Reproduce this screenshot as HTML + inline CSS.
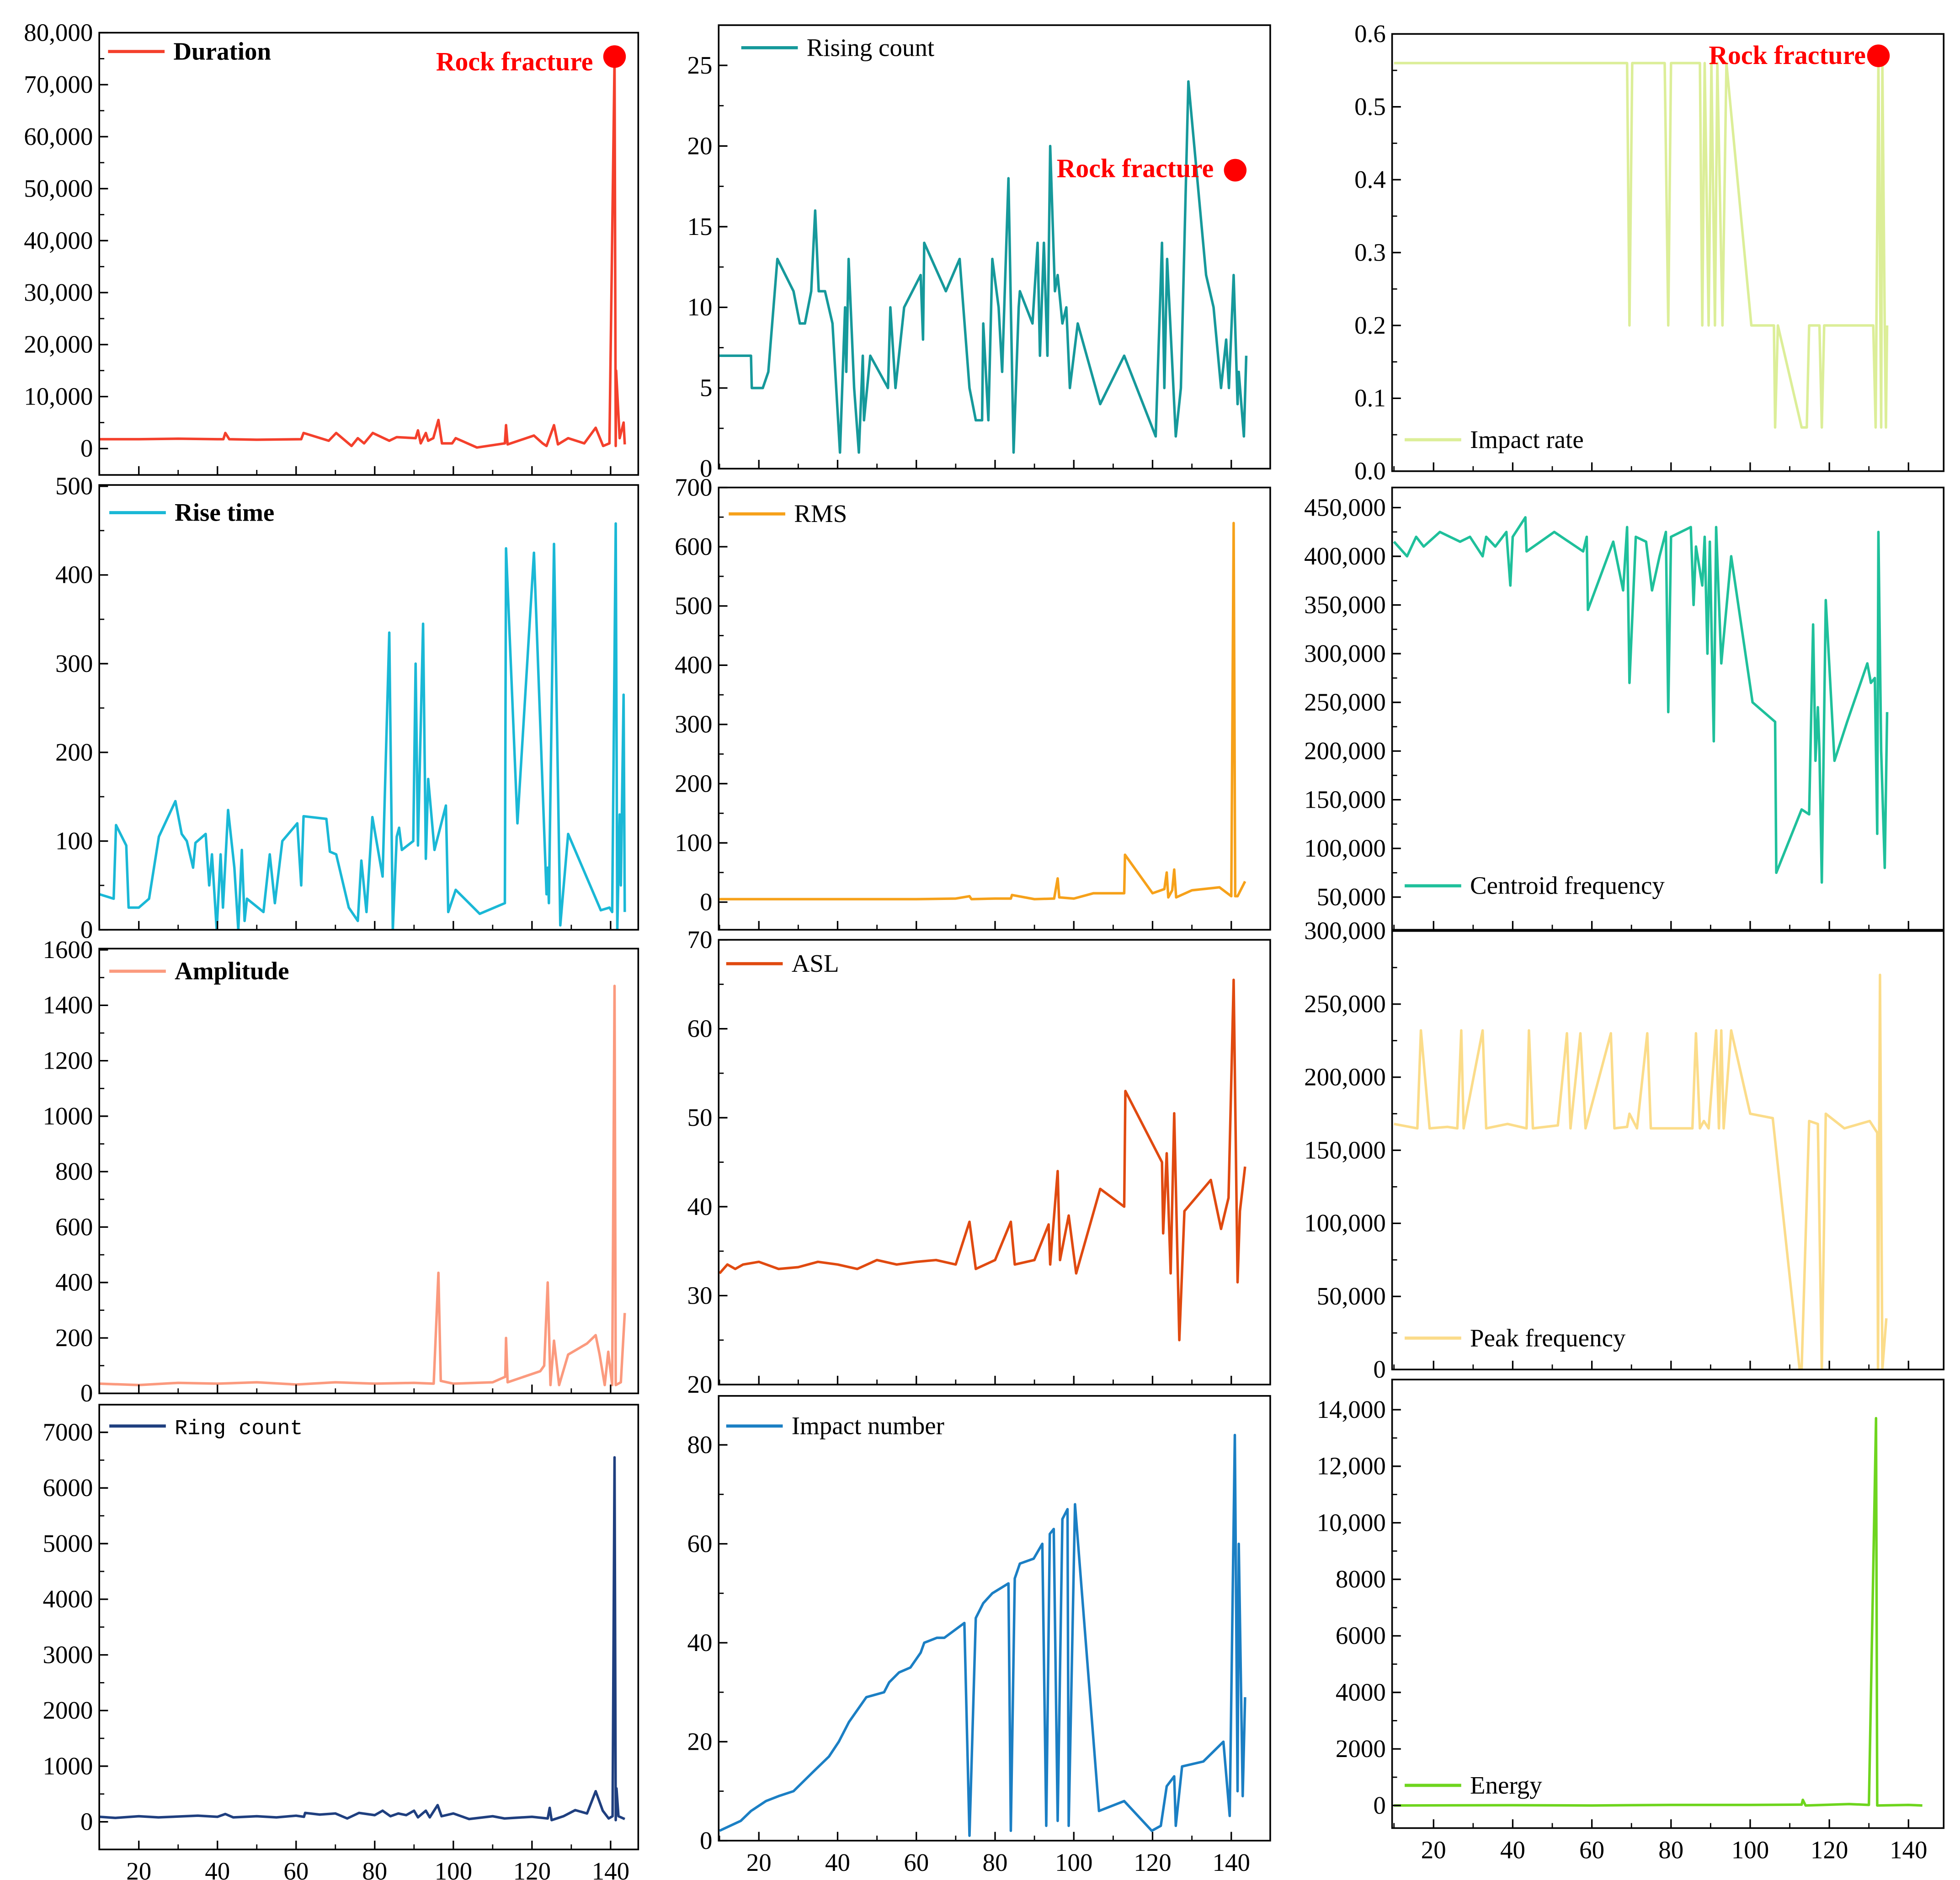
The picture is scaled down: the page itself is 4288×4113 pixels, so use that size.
<!DOCTYPE html>
<html><head><meta charset="utf-8">
<style>
html,body{margin:0;padding:0;background:#fff;}
svg{display:block;}
text{font-family:"Liberation Serif",serif;fill:#000;}
</style></head>
<body>
<svg id="chart" width="4288" height="4113" viewBox="0 0 1560 1496.3" xmlns="http://www.w3.org/2000/svg">
<rect x="0" y="0" width="1560" height="1496.3" fill="#fff"/>
</svg>
<script>
// ---------- DATA ----------
const durX=[10,20,30,40,41.5,42,43,50,61.3,61.9,68.3,70.2,74.1,75.7,77.3,79.5,83.7,85.6,90.4,91,91.7,93,93.6,94.9,96.2,97.1,99.7,100.6,106,113.1,113.4,113.8,120.5,122.7,123.7,125.6,126.6,129.2,133.3,136.2,138.1,139.7,141,141.3,141.4,142.3,143.3,143.6];
const durY=[1800,1800,1900,1800,1800,3000,1800,1700,1800,3000,1500,3000,500,2000,1000,3000,1500,2200,2000,3500,1000,3000,1500,2000,5500,1000,1000,2000,200,1000,4500,800,2500,1000,500,4500,800,2000,1000,4000,500,1000,75000,500,15000,2000,5000,800];

const risX=[10,18,18.2,21,22.4,24.7,28.8,30.4,31.7,33.3,34.3,35.2,36.8,38.7,40.6,41.6,41.9,42.2,42.8,44.2,45.4,46.4,46.7,48.3,52.8,53.4,54.7,56.9,61.1,61.7,62,67.5,71,73.5,75.1,76.7,77,78.3,79.3,80.9,81.8,83.4,84.7,86,86.3,89.5,90.8,91.4,92.4,93.3,94,95.2,95.9,97.1,98.1,99,101,106.7,112.8,120.8,122.4,123,123.7,125.9,127.2,129.1,133.6,135.5,137.4,138.7,139.4,140.6,141.6,141.9,143.2,143.8];
const risY=[7,7,5,5,6,13,11,9,9,11,16,11,11,9,1,8,10,6,13,5,1,7,3,7,5,10,5,10,12,8,14,11,13,5,3,3,9,3,13,10,6,18,1,10,11,9,14,7,14,7,20,11,12,9,10,5,9,4,7,2,14,5,13,2,5,24,12,10,5,8,5,12,4,6,2,7];

const irX=[10,68.9,69.5,70.2,78.4,79.3,80,87.3,87.9,88.5,89.5,90.2,91.1,91.7,93,94,100.3,106,106.3,107,113,114.3,114.9,117.5,118.1,118.7,131.1,131.7,132.4,133.1,133.4,134,134.3,134.6];
const irY=[0.56,0.56,0.2,0.56,0.56,0.2,0.56,0.56,0.2,0.56,0.2,0.56,0.2,0.56,0.2,0.56,0.2,0.2,0.06,0.2,0.06,0.06,0.2,0.2,0.06,0.2,0.2,0.06,0.56,0.06,0.56,0.2,0.06,0.2];

const rtX=[10,13.6,14.2,16.8,17.4,20,22.6,25.1,29.3,30.9,32.2,33.8,34.4,37,37.9,38.6,39.8,40.8,41.4,42.7,44.3,45.3,46.2,46.9,47.5,51.7,53.3,54.6,56.5,60.3,61.3,61.9,67.7,68.6,70.2,73.4,75.7,76.6,77.9,79.4,82,83.7,84.6,85.6,86.2,86.9,89.8,90.4,91,92.3,93,93.6,95.2,98.1,98.7,100.6,106.7,113.1,113.4,116.3,120.5,123.7,124,124.3,125.6,127.2,129.2,137.5,139.7,140.4,141.3,141.7,142.3,142.6,143.3,143.6];
const rtY=[40,35,118,95,25,25,35,105,145,108,100,70,98,108,50,85,0,85,25,135,70,0,90,10,35,20,85,30,100,120,50,128,125,88,85,25,10,78,20,127,60,335,0,105,115,90,100,300,95,345,80,170,90,140,20,45,18,30,430,120,425,40,70,30,435,5,108,22,25,20,458,0,130,50,265,20];

const rmsX=[10,40,60,70,73.5,74,80,84,84.3,90,95,95.9,96.3,100,105,112.8,113,120,123,123.6,124,125,125.5,126,130,137,140,140.6,141,141.6,143.5];
const rmsY=[5,5,5,6,10,5,6,6,12,5,6,40,8,6,15,15,80,15,22,50,8,20,55,8,20,25,10,640,10,10,35];

const cfX=[10,13.3,15.6,17.5,21.6,26.7,29.2,32.4,33.3,35.6,38.4,39.4,40,43.2,43.5,47,50.5,57.8,58.7,59,65.4,67.9,68.9,69.5,71.1,73.7,75.2,77.1,78.7,79.3,80,85,85.7,86.3,87.9,88.5,89.2,89.8,90.8,91.4,92.7,95.2,100.6,106.3,106.6,113,114.9,115.9,116.5,117.1,117.5,118.1,119.1,121.3,124.5,129.6,130.5,131.5,132.1,132.4,133.1,134,134.6];
const cfY=[415000,400000,420000,410000,425000,415000,420000,400000,420000,410000,425000,370000,420000,440000,405000,415000,425000,405000,420000,345000,415000,365000,430000,270000,420000,415000,365000,400000,425000,240000,420000,430000,350000,410000,370000,420000,300000,415000,210000,430000,290000,400000,250000,230000,75000,140000,135000,330000,190000,245000,200000,65000,355000,190000,230000,290000,270000,275000,115000,425000,200000,80000,240000];

const ampX=[10,20,30,40,50,60,70,80,90,95,96.2,96.8,100,110,113.2,113.4,113.8,122.1,123.1,124,124.7,125.6,126.9,129.2,134,136.2,137.2,138.5,139.4,140.4,141,141.3,142.6,143.6];
const ampY=[35,30,38,35,40,32,40,35,38,35,435,45,35,40,60,200,40,80,100,400,30,190,30,140,180,210,140,30,150,30,1470,30,40,290];

const aslX=[10,12,14,16,20,25,30,35,40,45,50,55,60,65,70,73.5,75.1,80,84,85,90,93.6,94,95.9,96.5,98.7,100.6,106.7,112.8,113.1,122.4,122.7,123.6,124.6,125.5,126.8,128.1,134.8,137.4,139.3,140.6,141.6,142.2,143.5];
const aslY=[32.5,33.5,33,33.5,33.8,33,33.2,33.8,33.5,33,34,33.5,33.8,34,33.5,38.3,33,34,38.3,33.5,34,38,33.5,44,34,39,32.5,42,40,53,45,37,46,32.5,50.5,25,39.5,43,37.5,41,65.5,31.5,39.5,44.5];

const peakX=[10,15.9,16.8,19,23.5,26,27,27.6,32.4,33.3,38.7,43.5,44.1,45.1,51.4,53.7,54.6,57.1,58.4,64.8,65.7,68.9,69.5,71.4,74,74.9,85.4,86.3,87.3,88.3,89.5,91.4,92.1,92.7,93.3,95.2,100,105.7,112.5,113,114.9,117.1,118.1,119.1,123.8,130.2,132.1,132.3,132.8,133.4,134.4];
const peakY=[168000,165000,232000,165000,166000,165000,232000,165000,232000,165000,168000,165000,232000,165000,167000,230000,165000,230000,165000,230000,165000,166000,175000,165000,230000,165000,165000,230000,165000,170000,165000,232000,165000,232000,165000,232000,175000,172000,0,0,170000,168000,0,175000,165000,170000,162000,0,270000,0,35000];

const ringX=[10,14,20,25,30,35,40,42,44,50,55,60,62,62.3,66,70,73,76,80,82,84,86,88,90,91,93,94,96,97,100,104,110,113,120,124,124.5,125,128,131,134,136.2,138,139.5,140.5,141,141.3,141.5,142,143.6];
const ringY=[90,70,100,80,95,110,90,140,80,100,80,110,90,160,130,150,60,160,120,200,100,150,120,200,80,200,80,300,100,150,50,100,60,90,60,250,30,100,210,150,550,200,60,100,6550,30,600,100,50];

const impX=[10,15.4,18,21.8,25,28.8,33.9,37.8,40.3,42.9,47.3,51.8,53.1,55.6,58.5,61.1,62,65.2,67.1,72.2,73.5,75.1,77,79.3,83.4,84,85,86.3,89.8,92,93,93.9,94.9,95.9,97.1,98.4,98.7,100.3,106.4,112.8,119.8,122.1,123.6,125.5,125.9,127.5,132.9,138,139.6,140.9,141.6,141.9,142.9,143.5];
const impY=[2,4,6,8,9,10,14,17,20,24,29,30,32,34,35,38,40,41,41,44,1,45,48,50,52,2,53,56,57,60,3,62,63,4,65,67,3,68,6,8,2,3,11,13,3,15,16,20,5,82,10,60,9,29];

const enX=[10,40,60,80,100,113,113.3,114,125,130,131.8,132.1,140,143.5];
const enY=[0,10,0,20,20,30,200,0,50,20,13700,0,20,0];

// tick values & labels
const tDurV=[0,10000,20000,30000,40000,50000,60000,70000,80000];
const tDurL=["0","10,000","20,000","30,000","40,000","50,000","60,000","70,000","80,000"];
const tRisV=[0,5,10,15,20,25]; const tRisL=["0","5","10","15","20","25"];
const tIrV=[0,0.1,0.2,0.3,0.4,0.5,0.6]; const tIrL=["0.0","0.1","0.2","0.3","0.4","0.5","0.6"];
const tRtV=[0,100,200,300,400,500]; const tRtL=["0","100","200","300","400","500"];
const tRmsV=[0,100,200,300,400,500,600,700]; const tRmsL=["0","100","200","300","400","500","600","700"];
const tCfV=[50000,100000,150000,200000,250000,300000,350000,400000,450000];
const tCfL=["50,000","100,000","150,000","200,000","250,000","300,000","350,000","400,000","450,000"];
const tAmpV=[0,200,400,600,800,1000,1200,1400,1600]; const tAmpL=["0","200","400","600","800","1000","1200","1400","1600"];
const tAslV=[20,30,40,50,60,70]; const tAslL=["20","30","40","50","60","70"];
const tPkV=[0,50000,100000,150000,200000,250000,300000]; const tPkL=["0","50,000","100,000","150,000","200,000","250,000","300,000"];
const tRingV=[0,1000,2000,3000,4000,5000,6000,7000]; const tRingL=["0","1000","2000","3000","4000","5000","6000","7000"];
const tImpV=[0,20,40,60,80]; const tImpL=["0","20","40","60","80"];
const tEnV=[0,2000,4000,6000,8000,10000,12000,14000]; const tEnL=["0","2000","4000","6000","8000","10,000","12,000","14,000"];
const xTickV=[20,40,60,80,100,120,140]; const xTickL=["20","40","60","80","100","120","140"];

// ---------- LAYOUT ----------
const NS="http://www.w3.org/2000/svg";
const svg=document.getElementById('chart');
function mk(tag,attrs,parent){const e=document.createElementNS(NS,tag);for(const k in attrs)e.setAttribute(k,attrs[k]);(parent||svg).appendChild(e);return e;}
const cols=[{l:79,r:508,p20:110.5,p140:486},{l:572,r:1011,p20:604,p140:980},{l:1108,r:1547,p20:1141,p140:1519}];
const panels=[
 {name:'duration',c:0,t:26,b:378,ref:[0,357,80000,26],tv:tDurV,tl:tDurL,x:durX,y:durY,col:'#f4402c',leg:'Duration',bold:true,lx:86,ly:41,mark:{x:141,y:75400,tx:472,ty:56}},
 {name:'rising-count',c:1,t:20,b:373,ref:[0,373,25,52],tv:tRisV,tl:tRisL,x:risX,y:risY,col:'#16999b',leg:'Rising count',lx:590,ly:38,mark:{x:141,y:18.5,tx:966,ty:141}},
 {name:'impact-rate',c:2,t:27,b:375,ref:[0,375,0.6,27],tv:tIrV,tl:tIrL,x:irX,y:irY,col:'#dcee98',leg:'Impact rate',lx:1118,ly:350,mark:{x:132.4,y:0.57,tx:1485,ty:51}},
 {name:'rise-time',c:0,t:386,b:740,ref:[0,740,500,387],tv:tRtV,tl:tRtL,x:rtX,y:rtY,col:'#1ab8d6',leg:'Rise time',bold:true,lx:87,ly:408},
 {name:'rms',c:1,t:388,b:740,ref:[0,718,700,388],tv:tRmsV,tl:tRmsL,x:rmsX,y:rmsY,col:'#f6a11a',leg:'RMS',lx:580,ly:409},
 {name:'centroid-frequency',c:2,t:388,b:740,ref:[50000,714,450000,404],tv:tCfV,tl:tCfL,x:cfX,y:cfY,col:'#1fc09b',leg:'Centroid frequency',lx:1118,ly:705},
 {name:'amplitude',c:0,t:755,b:1109,ref:[0,1109,1600,756],tv:tAmpV,tl:tAmpL,x:ampX,y:ampY,col:'#fb9a7e',leg:'Amplitude',bold:true,lx:87,ly:773},
 {name:'asl',c:1,t:748,b:1102,ref:[20,1102,70,748],tv:tAslV,tl:tAslL,x:aslX,y:aslY,col:'#e04a10',leg:'ASL',lx:578,ly:767},
 {name:'peak-frequency',c:2,t:741,b:1090,ref:[0,1090,300000,741],tv:tPkV,tl:tPkL,x:peakX,y:peakY,col:'#fbdc8a',leg:'Peak frequency',lx:1118,ly:1065},
 {name:'ring-count',c:0,t:1118,b:1472,ref:[0,1450,7000,1140],tv:tRingV,tl:tRingL,x:ringX,y:ringY,col:'#1f3f7f',leg:'Ring count',mono:true,lx:87,ly:1135},
 {name:'impact-number',c:1,t:1111,b:1465,ref:[0,1465,80,1150],tv:tImpV,tl:tImpL,x:impX,y:impY,col:'#1b7fc4',leg:'Impact number',lx:578,ly:1135},
 {name:'energy',c:2,t:1098,b:1455,ref:[0,1437,14000,1122],tv:tEnV,tl:tEnL,x:enX,y:enY,col:'#6ed51e',leg:'Energy',lx:1118,ly:1421}
];
const defs=mk('defs',{});
panels.forEach((p,i)=>{
 const c=cols[p.c];
 const xs=v=>c.p20+(v-20)*(c.p140-c.p20)/120;
 const ys=v=>p.ref[1]+(v-p.ref[0])*(p.ref[3]-p.ref[1])/(p.ref[2]-p.ref[0]);
 const g=mk('g',{});
 
 
 const cp=mk('clipPath',{id:'cp'+i},defs);
 mk('rect',{x:c.l,y:p.t,width:c.r-c.l,height:p.b-p.t},cp);
 let d='';p.x.forEach((xv,k)=>{d+=(k?'L':'M')+xs(xv).toFixed(2)+','+ys(p.y[k]).toFixed(2);});
 const line=mk('path',{d:d,fill:'none',stroke:p.col,'stroke-width':2,'stroke-linejoin':'round','clip-path':'url(#cp'+i+')'},g);
 
 
 const fr=mk('rect',{x:c.l,y:p.t,width:c.r-c.l,height:p.b-p.t,fill:'none',stroke:'#000','stroke-width':1.3},g);
 
 
 const yt=mk('g',{},g);
 
 
 p.tv.forEach((v,k)=>{
  const y=ys(v);
  mk('line',{x1:c.l,x2:c.l+7,y1:y,y2:y,stroke:'#000','stroke-width':1.2},yt);
  if(k<p.tv.length-1){const ym=ys((v+p.tv[k+1])/2);mk('line',{x1:c.l,x2:c.l+4,y1:ym,y2:ym,stroke:'#000','stroke-width':1},yt);}
  const t=mk('text',{x:c.l-5,y:y+6.5,'text-anchor':'end','font-size':20},yt);t.textContent=p.tl[k];
 });
 const xt=mk('g',{},g);
 
 
 const bottomRow=i>=9;
 xTickV.forEach((v,k)=>{
  const x=xs(v);
  mk('line',{x1:x,x2:x,y1:p.b,y2:p.b-7,stroke:'#000','stroke-width':1.2},xt);
  const xm=xs(v-10); if(xm>c.l) mk('line',{x1:xm,x2:xm,y1:p.b,y2:p.b-4,stroke:'#000','stroke-width':1},xt);
  if(bottomRow){const t=mk('text',{x:x,y:p.b+24,'text-anchor':'middle','font-size':20},xt);t.textContent=xTickL[k];}
 });
 const lg=mk('g',{},g);
 
 
 mk('line',{x1:p.lx,x2:p.lx+45,y1:p.ly,y2:p.ly,stroke:p.col,'stroke-width':2.5},lg);
 const lt=mk('text',{x:p.lx+52,y:p.ly+6.5,'font-size':p.mono?17:20},lg);
 if(p.bold)lt.setAttribute('font-weight','bold');
 if(p.mono)lt.setAttribute('style','font-family:"Liberation Mono",monospace');
 lt.textContent=p.leg;
 if(p.mark){
  const mg=mk('g',{},g);
  
  
  mk('circle',{cx:xs(p.mark.x),cy:ys(p.mark.y),r:9,fill:'#f00'},mg);
  const mt=mk('text',{x:p.mark.tx,y:p.mark.ty,'text-anchor':'end','font-size':21,'font-weight':'bold'},mg);
  mt.setAttribute('style','fill:#f00');
  mt.textContent='Rock fracture';
 }
});
</script>
</body></html>
